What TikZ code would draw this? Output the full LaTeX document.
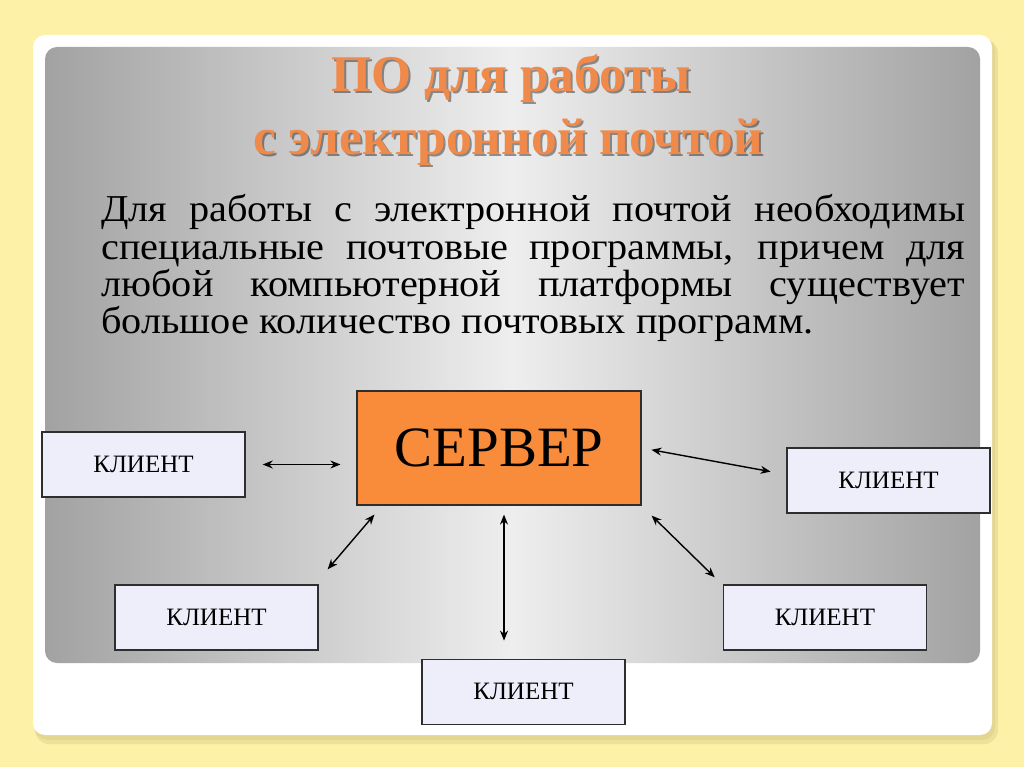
\documentclass[tikz,border=0pt]{standalone}
\usepackage{fontspec}
\setmainfont{Liberation Serif}
\newfontfamily\bodyfont[FakeStretch=1.06]{Liberation Serif}
\usepackage{xcolor}
\usepackage{tikz}
\usetikzlibrary{arrows.meta,positioning,calc}
\definecolor{slidebg}{HTML}{FCF1A6}
\definecolor{frameshadow}{HTML}{E3D690}
\definecolor{titleorange}{HTML}{F08A4B}
\definecolor{serverorange}{HTML}{F98C3A}
\definecolor{clientfill}{HTML}{EEEEFB}
\definecolor{boxborder}{HTML}{2E2E2E}
\definecolor{panelgray}{HTML}{A2A2A2}
\definecolor{panellight}{HTML}{EEEEEE}
\tikzset{
  client/.style={
    draw=boxborder, fill=clientfill, line width=1.4pt,
    minimum width=203pt, minimum height=65pt, inner sep=0pt,
    font=\fontsize{25}{30}\selectfont,
  },
  server/.style={
    draw=boxborder, fill=serverorange, line width=1.2pt,
    minimum width=284pt, minimum height=114pt, inner sep=0pt,
    font=\fontsize{57}{66}\selectfont,
  },
  link/.style={{Stealth[length=10pt,width=8pt]}-{Stealth[length=10pt,width=8pt]}, line width=1.4pt, black},
  titleline/.style={anchor=base, font=\fontsize{51.5}{60}\selectfont\bfseries, text=titleorange},
  titleshadow/.style={anchor=base, font=\fontsize{51.5}{60}\selectfont\bfseries, text=black, opacity=0.4},
  bodyline/.style={anchor=base west, inner sep=0pt, font=\bodyfont\fontsize{38}{37}\selectfont},
}

\begin{document}
\begin{tikzpicture}[x=1pt, y=-1pt]

  \useasboundingbox (0,0) rectangle (1024,767);
  \fill[slidebg] (0,0) rectangle (1024,767);

  % slide frame and panel
  \fill[frameshadow!60!slidebg, rounded corners=14pt] (35,39) rectangle (998,744);
  \fill[frameshadow, rounded corners=13pt] (35,38) rectangle (995,740);
  \fill[white, rounded corners=12pt] (33,35) rectangle (992,735);
  \shade[rounded corners=12pt, left color=panelgray, right color=panelgray,
         middle color=panellight] (45,47) rectangle (980,663);

  % title
  \node[titleshadow] (title1s) at (513,94) {ПО для работы};
  \node[titleline]   (title1)  at (511,92) {ПО для работы};
  \node[titleshadow] (title2s) at (510,157) {с электронной почтой};
  \node[titleline]   (title2)  at (508,155) {с электронной почтой};

  % text
  \node[bodyline] (line1) at (101,222) {\makebox[864pt][s]{Для работы с электронной почтой необходимы}};
  \node[bodyline] (line2) at (101,259) {\makebox[864pt][s]{специальные почтовые программы, причем для}};
  \node[bodyline] (line3) at (101,296) {\makebox[864pt][s]{любой компьютерной платформы существует}};
  \node[bodyline] (line4) at (101,333) {большое количество почтовых программ.};

  % server and clients
  \node[server] (server) at (499,448) {СЕРВЕР};

  \node[client] (c1) at (143.5,464.5) {КЛИЕНТ};
  \node[client] (c2) at (216.5,617.5) {КЛИЕНТ};
  \node[client, right=404pt of c2] (c4) {КЛИЕНТ};
  \node[client, below=153pt of server, xshift=24.5pt] (c3) {КЛИЕНТ};
  \node[client] (c5) at (888.5,480.5) {КЛИЕНТ};

  \draw[link, shorten <=17pt, shorten >=16pt] (c1.east) -- (c1.east -| server.west);
  \draw[link, shorten <=10pt, shorten >=16pt] (server.east) -- ([yshift=6pt]c5.west);
  \draw[link] ($(server.south west)+(18,9)$) -- ($(c2.north east)+(9,-15)$);
  \draw[link] ($(server.south)+(5,9)$) -- ($(c3.north)+(-19.5,-18)$);
  \draw[link] ($(server.south east)+(10,10)$) -- ($(c4.north west)+(-8,-7)$);

\end{tikzpicture}
\end{document}
